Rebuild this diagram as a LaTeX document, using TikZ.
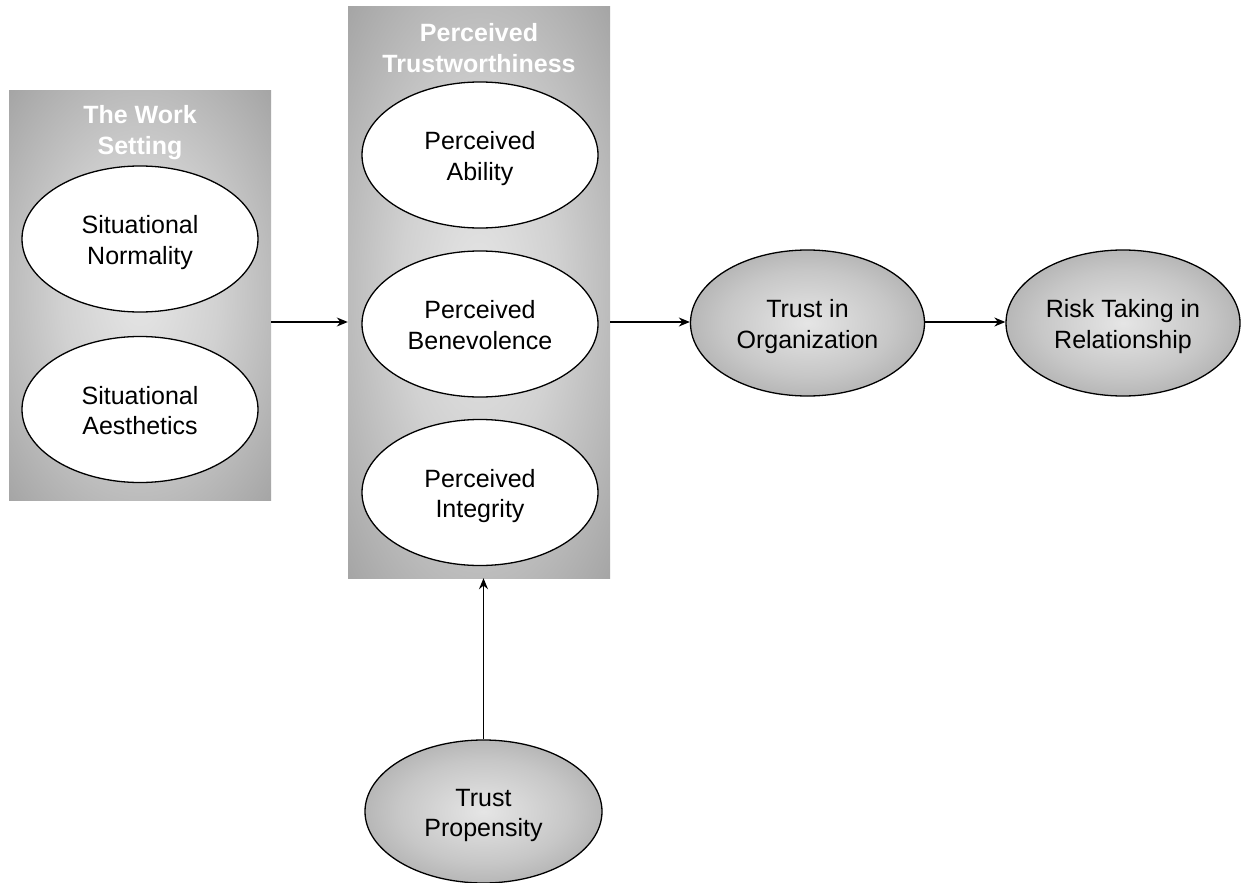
\documentclass[tikz,border=0pt]{standalone}
\usepackage{fontspec}
\setmainfont{Liberation Sans}
\usetikzlibrary{arrows.meta,shapes.geometric}
\pgfdeclareradialshading{boxshade}{\pgfpoint{0bp}{0bp}}{%
  color(0bp)=(black!10); color(15bp)=(black!18); color(35bp)=(black!35); color(50bp)=(black!48); color(71bp)=(black!70)}
\pgfdeclareradialshading{ovalshade}{\pgfpoint{0bp}{0bp}}{%
  color(0bp)=(black!10); color(18bp)=(black!22); color(38bp)=(black!40); color(50bp)=(black!55); color(71bp)=(black!60)}
\newcommand\lowtxt[1]{\raisebox{-4pt}[\height][\depth]{\begin{tabular}{@{}c@{}}#1\end{tabular}}}
\begin{document}
\begin{tikzpicture}[x=1pt,y=-1pt,
  txt/.style={font=\fontsize{25}{30.5}\selectfont},
  box/.style={shading=boxshade, draw=none, inner sep=0pt},
  title/.style={font=\fontsize{25}{31}\selectfont\bfseries, align=center, text=white},
  woval/.style={ellipse, draw=black, line width=1.3pt, fill=white, txt, inner sep=0pt, minimum width=236pt, minimum height=146pt},
  goval/.style={ellipse, draw=black, line width=1.3pt, shading=ovalshade, txt, inner sep=0pt, minimum width=234pt, minimum height=146pt},
  arr/.style={line width=1.4pt, -{Stealth[length=11pt,width=9pt]}}
]
\useasboundingbox (0,0) rectangle (1243,883);
\fill[white] (0,0) rectangle (1243,883);
% boxes
\node[box, minimum width=262pt, minimum height=409pt] (ws) at (140,295.5) {};
\node[box, minimum width=262pt, minimum height=571pt] (pt) at (479,292.5) {};
\node[title] (wst) at (140,133) {The Work\\Setting};
\node[title] (ptt) at (479,48) {Perceived\\Trustworthiness};
% inner ovals
\node[woval] (sn) at (140,239) {\lowtxt{Situational\\Normality}};
\node[woval] (sa) at (140,409.5) {\lowtxt{Situational\\Aesthetics}};
\node[woval] (pa) at (480,155) {\lowtxt{Perceived\\Ability}};
\node[woval] (pb) at (480,324) {\lowtxt{Perceived\\Benevolence}};
\node[woval] (pi) at (480,492.5) {\lowtxt{Perceived\\Integrity}};
% outer ovals
\node[goval] (tio) at (807.5,323) {\lowtxt{Trust in\\Organization}};
\node[goval] (rt) at (1123,323) {\lowtxt{Risk Taking in\\Relationship}};
\node[goval, minimum width=237pt, minimum height=143pt] (tp) at (483.5,811.5) {\lowtxt{Trust\\Propensity}};
% connectors
\coordinate (row) at (0,322);
\draw[arr] (ws.east |- row) -- (pt.west |- row);
\draw[arr] (pt.east |- row) -- (tio.west |- row);
\draw[arr] (tio.east |- row) -- (rt.west |- row);
\draw[arr] (tp.north) -- (tp.north |- pt.south);
\end{tikzpicture}
\end{document}
